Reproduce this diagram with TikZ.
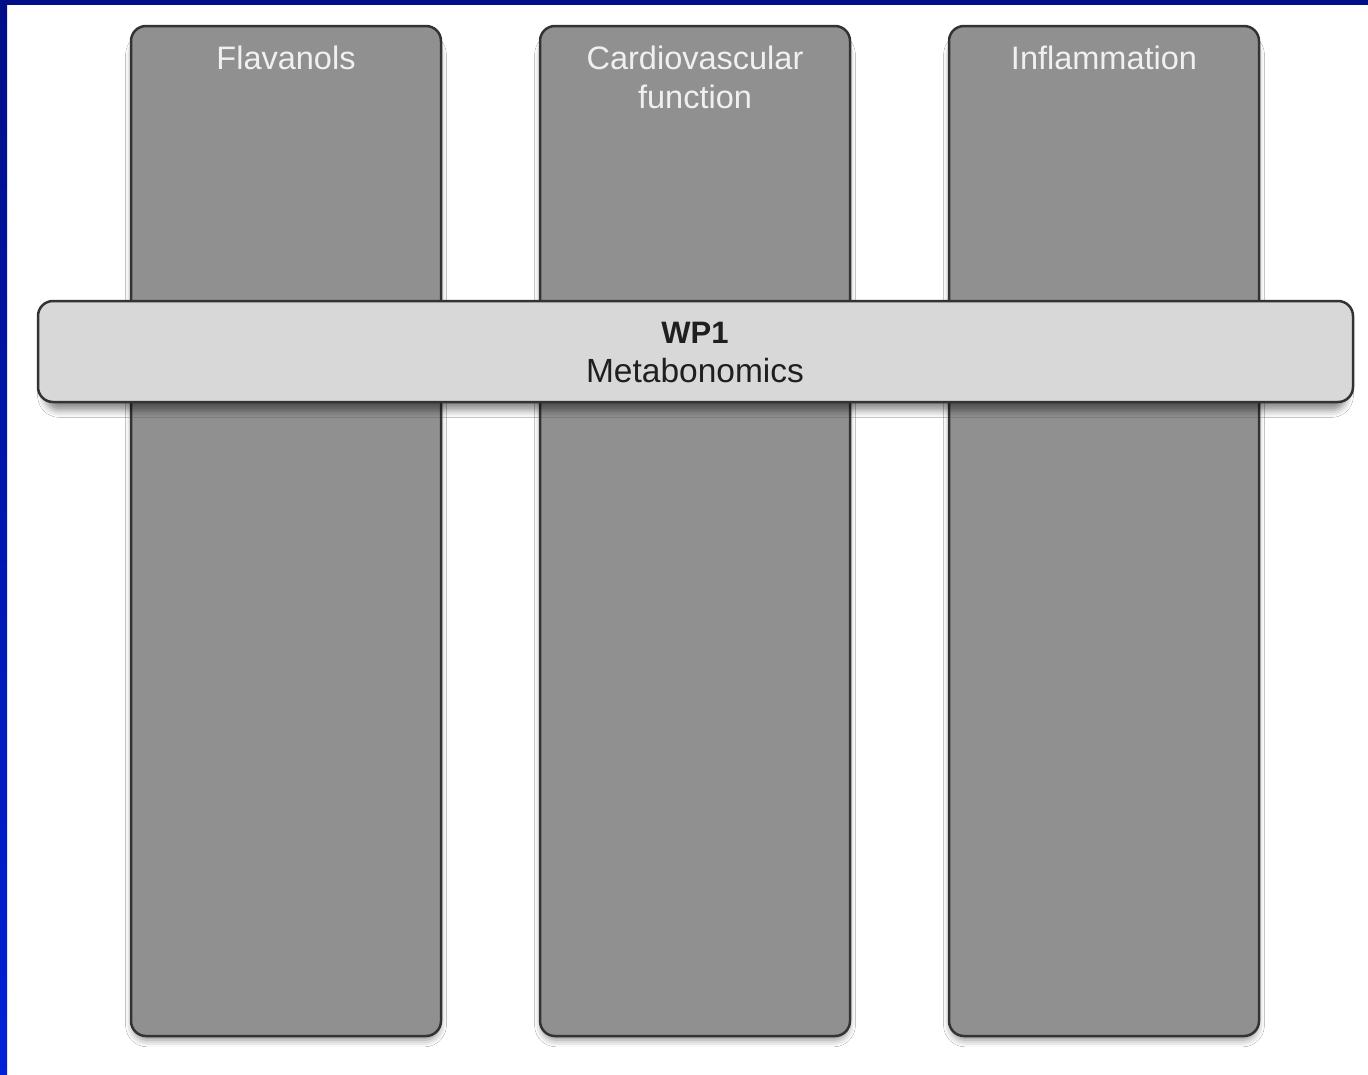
\documentclass[tikz,border=0pt]{standalone}
\usepackage{fontspec}
\setmainfont{Liberation Sans}
\usetikzlibrary{shadows.blur}
\definecolor{colfill}{HTML}{909090}
\definecolor{bandfill}{HTML}{D8D8D8}
\definecolor{edgec}{HTML}{333333}
\definecolor{navy}{HTML}{000E88}
\definecolor{brightblue}{HTML}{0022D8}
\tikzset{
  column/.style={draw=edgec, line width=2.5pt, fill=colfill, rounded corners=15pt,
    blur shadow={shadow xshift=0pt, shadow yshift=-9pt, shadow scale=0.99, shadow blur radius=7pt, shadow opacity=45}},
  band/.style={draw=edgec, line width=2.5pt, fill=bandfill, rounded corners=15pt,
    blur shadow={shadow xshift=0pt, shadow yshift=-9pt, shadow scale=0.99, shadow blur radius=7pt, shadow opacity=45}},
  coltitle/.style={text=white!94!black, font=\fontsize{32.5}{39}\selectfont, align=center, anchor=north},
}
\begin{document}
\begin{tikzpicture}[x=1pt,y=-1pt]
\useasboundingbox (0,0) rectangle (1368,1074);
\fill[white] (0,0) rectangle (1368,1074);
% columns
\draw[column] (131,26) rectangle (441,1036);
\draw[column] (540,26) rectangle (850,1036);
\draw[column] (949,26) rectangle (1259,1036);
\node[coltitle] (t1) at (286,42) {Flavanols};
\node[coltitle] (t2) at (695,42) {Cardiovascular\\function};
\node[coltitle] (t3) at (1104,42) {Inflammation};
% band
\draw[band] (38,301) rectangle (1353,402);
\node[align=center, text=black!88, font=\fontsize{33.5}{39}\selectfont] (wp) at (695,352) {{\fontsize{31}{39}\selectfont\textbf{WP1}}\\Metabonomics};
% frame
\fill[navy] (0,0) rectangle (1368,5);
\shade[top color=navy, bottom color=brightblue] (0,0) rectangle (7,1074);
\end{tikzpicture}
\end{document}
